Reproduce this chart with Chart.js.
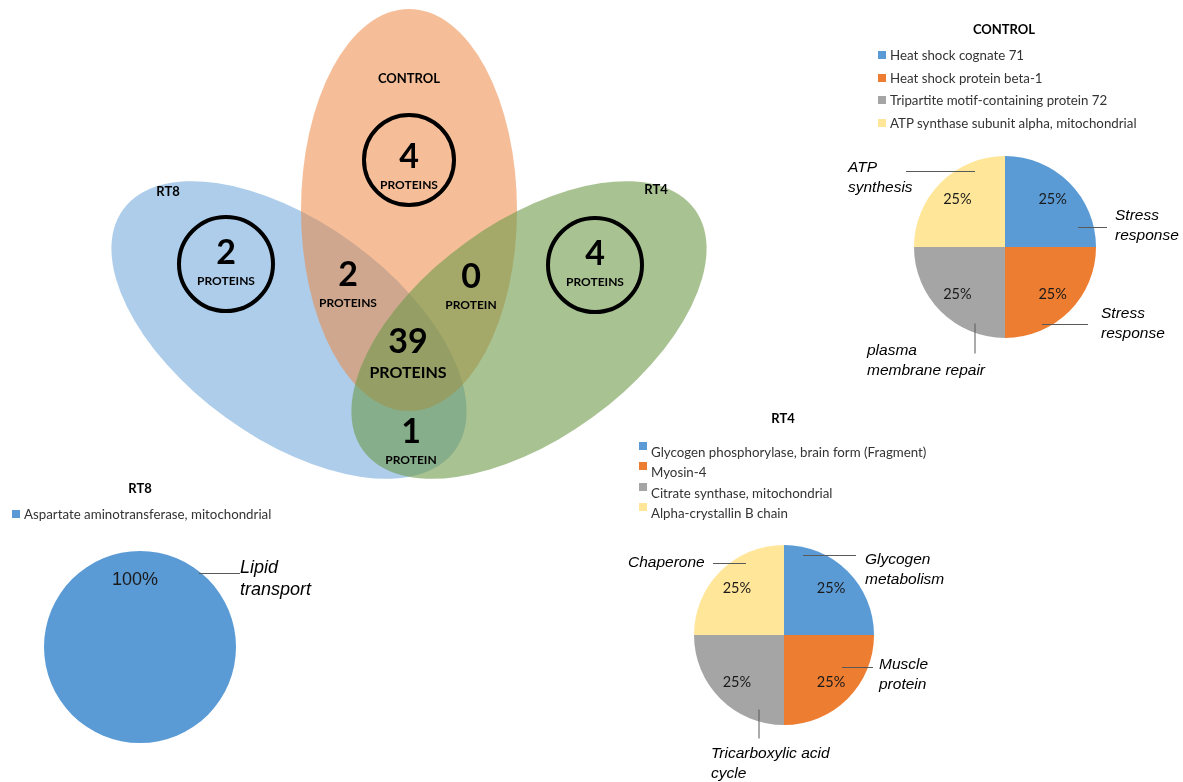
<!DOCTYPE html>
<html>
<head>
<meta charset="utf-8">
<title>Venn diagram and protein function pies</title>
<script src="https://cdn.jsdelivr.net/npm/chart.js@4.4.1/dist/chart.umd.min.js"></script>
<style>
  body { margin: 0; background: #fff; }
  #page { position: relative; width: 1183px; height: 782px; overflow: hidden; font-family: Lato, "Open Sans", sans-serif; }
  #page canvas { position: absolute; left: 0; top: 0; }
  .title { position: absolute; font-weight: bold; font-size: 13px; color: #000; transform: translate(-50%, -50%); white-space: nowrap; }
  .item { position: absolute; font-size: 13.3px; color: #333; white-space: nowrap; line-height: 16px; }
  .swatch { position: absolute; width: 8px; height: 8px; }
  .callout { position: absolute; font-family: "Liberation Sans", Arial, sans-serif; font-style: italic; font-size: 15.5px; line-height: 20px; color: #000; white-space: nowrap; }
</style>
</head>
<body>
<div id="page">
  <canvas id="venn" width="1183" height="782"></canvas>
  <canvas id="pie-control" width="1183" height="782"></canvas>
  <canvas id="pie-rt4" width="1183" height="782"></canvas>
  <canvas id="pie-rt8" width="1183" height="782"></canvas>
</div>
<script>
// Venn counts
const vennSets = ['CONTROL', 'RT8', 'RT4'];
const regionNames = ['CONTROL only', 'RT8 only', 'RT4 only', 'CONTROL+RT8', 'CONTROL+RT4', 'all three', 'RT8+RT4'];
const regionCounts = [4, 2, 4, 2, 0, 39, 1];
const regionUnits = ['PROTEINS', 'PROTEINS', 'PROTEINS', 'PROTEINS', 'PROTEIN', 'PROTEINS', 'PROTEIN'];

// pie data
const controlProteins = ['Heat shock cognate 71', 'Heat shock protein beta-1', 'Tripartite motif-containing protein 72', 'ATP synthase subunit alpha, mitochondrial'];
const controlShares = [25, 25, 25, 25];
const controlFunctions = ['Stress<br>response', 'Stress<br>response', 'plasma<br>membrane repair', 'ATP<br>synthesis'];

const rt4Proteins = ['Glycogen phosphorylase, brain form (Fragment)', 'Myosin-4', 'Citrate synthase, mitochondrial', 'Alpha-crystallin B chain'];
const rt4Shares = [25, 25, 25, 25];
const rt4Functions = ['Glycogen<br>metabolism', 'Muscle<br>protein', 'Tricarboxylic acid<br>cycle', 'Chaperone'];

const rt8Proteins = ['Aspartate aminotransferase, mitochondrial'];
const rt8Shares = [100];
const rt8Functions = ['Lipid<br>transport'];

const W = 1183, H = 782;
const sliceColors = ['#5B9BD5', '#ED7D31', '#A5A5A5', '#FFE699'];

// --- Venn layout (page units) ---
const vennShapes = [
    { cx: 289, cy: 330, rx: 205, ry: 108, rot: 36, color: 'rgba(91,155,213,0.5)' },   // RT8
    { cx: 409, cy: 210, rx: 108, ry: 201, rot: 0, color: 'rgba(237,137,68,0.55)' },   // CONTROL
    { cx: 529, cy: 330, rx: 205, ry: 108, rot: -36, color: 'rgba(110,153,73,0.6)' }  // RT4
];
const setLabelPos = [[409, 79], [168, 192], [656, 190]];
const regionPos = [[409, 157], [226, 253], [595, 254], [348, 275], [471, 277], [408, 342], [411, 432]];
const ringRegions = [0, 1, 2];

const vennPlugin = {
    id: 'venn',
    beforeDatasetsDraw(chart) {
        const { ctx, scales: { x, y } } = chart;
        vennShapes.forEach(s => {
            const cx = x.getPixelForValue(s.cx), cy = y.getPixelForValue(s.cy);
            const rx = Math.abs(x.getPixelForValue(s.cx + s.rx) - cx);
            const ry = Math.abs(y.getPixelForValue(s.cy + s.ry) - cy);
            ctx.save();
            ctx.beginPath();
            ctx.ellipse(cx, cy, rx, ry, s.rot * Math.PI / 180, 0, Math.PI * 2);
            ctx.fillStyle = s.color;
            ctx.fill();
            ctx.restore();
        });
    },
    afterDatasetsDraw(chart) {
        const { ctx, scales: { x, y } } = chart;
        const meta = chart.getDatasetMeta(0);
        ctx.save();
        ctx.fillStyle = '#000';
        ctx.textAlign = 'center';
        ctx.textBaseline = 'middle';

        vennSets.forEach((name, i) => {
            ctx.font = 'bold 13px Lato';
            ctx.fillText(name, x.getPixelForValue(setLabelPos[i][0]), y.getPixelForValue(setLabelPos[i][1]));
        });

        meta.data.forEach((pt, i) => {
            const big = regionCounts[i] >= 10;
            if (ringRegions.includes(i)) {
                ctx.beginPath();
                ctx.lineWidth = 4;
                ctx.strokeStyle = '#000';
                ctx.arc(pt.x, pt.y + (i === 0 ? 3 : 11), i === 0 ? 45 : 47, 0, Math.PI * 2);
                ctx.stroke();
            }
            ctx.font = 'bold 34px Lato';
            ctx.fillText(String(regionCounts[i]), pt.x, pt.y);
            ctx.font = big ? 'bold 16px Lato' : 'bold 12px Lato';
            ctx.fillText(regionUnits[i], pt.x, pt.y + (big ? 31 : 28));
        });
        ctx.restore();
    }
};

new Chart(document.getElementById('venn'), {
    type: 'scatter',
    data: {
        datasets: [{
            label: 'proteins',
            data: regionCounts.map((n, i) => ({ x: regionPos[i][0], y: regionPos[i][1] })),
            pointRadius: 0
        }]
    },
    options: {
        responsive: false,
        animation: false,
        events: [],
        layout: { padding: 0 },
        plugins: { legend: { display: false }, tooltip: { enabled: false } },
        scales: {
            x: { type: 'linear', min: 0, max: W, display: false },
            y: { type: 'linear', min: 0, max: H, reverse: true, display: false }
        }
    },
    plugins: [vennPlugin]
});

// --- pies ---
const pieSpecs = {
    control: {
        cx: 1005, cy: 247, r: 91, pctFont: '14.5px Lato', pctFactor: 0.74,
        title: [1004, 29], legendX: 890, legendY: 55, legendStep: 22.7, swatchDy: -4,
        leaders: [[73, -20, 102, -20], [37, 77, 83, 77], [-30, 76, -30, 106], [-99, -76, -30, -76]],
        callouts: [[1115, 215], [1101, 313], [867, 350], [848, 167]],
        calloutSize: 15.5, calloutLine: 20
    },
    rt4: {
        cx: 784, cy: 635, r: 90, pctFont: '14.5px Lato', pctFactor: 0.74,
        title: [783, 418], legendX: 651, legendY: 452, legendStep: 20.3, swatchDy: -10,
        leaders: [[19, -80, 72, -80], [58, 32, 89, 32], [-25, 74, -25, 103], [-71, -72, -38, -72]],
        callouts: [[865, 559], [879, 664], [711, 753], [628, 562]],
        calloutSize: 15.5, calloutLine: 20
    },
    rt8: {
        cx: 140, cy: 647, r: 96, pctFont: '18px "Liberation Sans"', pctFactor: 0.7,
        title: [140, 488], legendX: 24, legendY: 514, legendStep: 22, swatchDy: -4,
        leaders: [[59, -74, 100, -74]],
        callouts: [[240, 567]],
        calloutSize: 18, calloutLine: 22
    }
};

function pieLabels(spec) {
    return {
        id: 'pieLabels',
        afterDatasetsDraw(chart) {
            const { ctx } = chart;
            const arcs = chart.getDatasetMeta(0).data;
            ctx.save();
            arcs.forEach((arc, i) => {
                const { x, y, startAngle, endAngle, outerRadius } = arc.getProps(['x', 'y', 'startAngle', 'endAngle', 'outerRadius'], true);
                const full = arcs.length === 1;
                const mid = full ? startAngle : (startAngle + endAngle) / 2;
                const lx = x + Math.cos(mid) * outerRadius * spec.pctFactor;
                const ly = y + Math.sin(mid) * outerRadius * spec.pctFactor;
                ctx.fillStyle = '#1a1a1a';
                ctx.font = spec.pctFont;
                ctx.textAlign = 'center';
                ctx.textBaseline = 'middle';
                const value = chart.data.datasets[0].data[i];
                ctx.fillText(value + '%', full ? lx - 5 : lx, ly);

                const l = spec.leaders[i];
                ctx.beginPath();
                ctx.strokeStyle = '#595959';
                ctx.lineWidth = 1;
                ctx.moveTo(x + l[0], y + l[1] + 0.5);
                ctx.lineTo(x + l[2], y + l[3] + 0.5);
                ctx.stroke();
            });
            ctx.restore();
        }
    };
}

function drawPie(canvasId, labels, values, spec) {
    new Chart(document.getElementById(canvasId), {
        type: 'pie',
        data: {
            labels: labels,
            datasets: [{
                data: values,
                backgroundColor: sliceColors.slice(0, values.length),
                borderWidth: 0,
                hoverOffset: 0,
                offset: 0
            }]
        },
        options: {
            responsive: false,
            animation: false,
            events: [],
            layout: {
                padding: {
                    left: spec.cx - spec.r,
                    top: spec.cy - spec.r,
                    right: W - spec.cx - spec.r,
                    bottom: H - spec.cy - spec.r
                }
            },
            plugins: { legend: { display: false }, tooltip: { enabled: false } }
        },
        plugins: [pieLabels(spec)]
    });
}

function addText(html, cls, left, top, style) {
    const el = document.createElement('div');
    el.className = cls;
    el.innerHTML = html;
    el.style.left = left + 'px';
    el.style.top = top + 'px';
    Object.assign(el.style, style || {});
    document.getElementById('page').appendChild(el);
    return el;
}

function addLegend(title, proteins, functions, spec) {
    addText(title, 'title', spec.title[0], spec.title[1]);
    proteins.forEach((p, i) => {
        const cy = spec.legendY + i * spec.legendStep;
        addText(p, 'item', spec.legendX, cy - 8);
        const sw = addText('', 'swatch', spec.legendX - 12, cy + spec.swatchDy);
        sw.style.background = sliceColors[i];
    });
    functions.forEach((f, i) => {
        const c = spec.callouts[i];
        addText(f, 'callout', c[0], c[1] - spec.calloutLine / 2, {
            fontSize: spec.calloutSize + 'px',
            lineHeight: spec.calloutLine + 'px'
        });
    });
}

drawPie('pie-control', controlProteins, controlShares, pieSpecs.control);
drawPie('pie-rt4', rt4Proteins, rt4Shares, pieSpecs.rt4);
drawPie('pie-rt8', rt8Proteins, rt8Shares, pieSpecs.rt8);

addLegend('CONTROL', controlProteins, controlFunctions, pieSpecs.control);
addLegend('RT4', rt4Proteins, rt4Functions, pieSpecs.rt4);
addLegend('RT8', rt8Proteins, rt8Functions, pieSpecs.rt8);
</script>
</body>
</html>
